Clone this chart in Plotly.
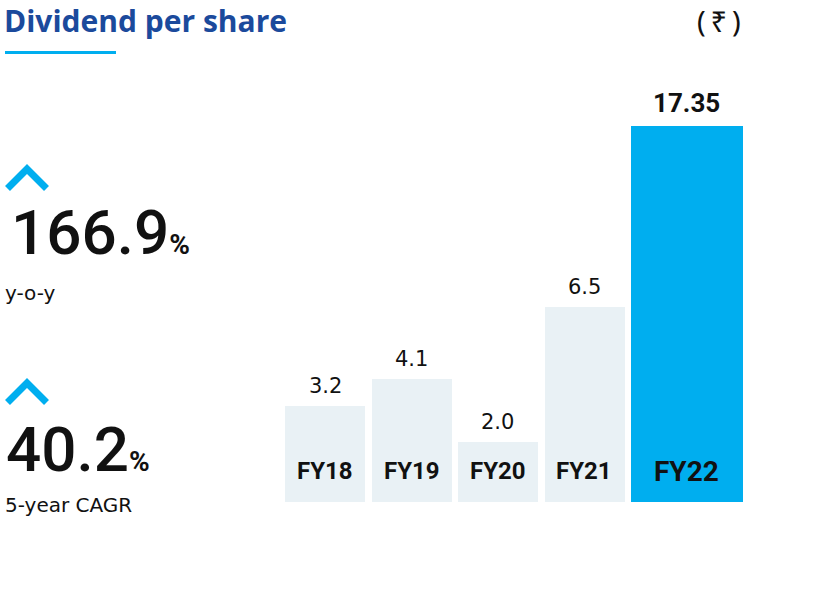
import plotly.graph_objects as go

# ---- data ----
categories = ["FY18", "FY19", "FY20", "FY21", "FY22"]
dividend = [3.2, 4.1, 2.0, 6.5, 17.35]
value_labels = ["3.2", "4.1", "2.0", "6.5", "17.35"]
yoy_growth = "166.9"
cagr_5yr = "40.2"

# the tallest bar is drawn on a broken (truncated) scale
AXIS_BREAK = 12.53
shown = [min(v, AXIS_BREAK) for v in dividend]

W, H = 819, 597
LIGHT = "#E9F1F5"
BLUE = "#00AEEF"
NAVY = "#1B4A9C"
FONT = "Roboto"
WIDE = "DejaVu Sans"

colors = [LIGHT] * 4 + [BLUE]
widths = [0.925] * 4 + [1.295]
offsets = [-0.4625] * 5

fig = go.Figure()
fig.add_trace(go.Bar(
    x=list(range(len(categories))), y=shown,
    width=widths, offset=offsets,
    marker=dict(color=colors, line=dict(width=0)),
    hoverinfo="skip",
))

def px(x):
    return x / W

def py(y):
    return 1 - y / H

annotations = []
for i, (c, lab, h) in enumerate(zip(categories, value_labels, shown)):
    last = i == len(categories) - 1
    cx = i - 0.4625 + widths[i] / 2
    if last:
        vfont = dict(family=FONT, size=26, color="#111111")
        vtext = f"<b>{lab}</b>"
    else:
        vfont = dict(family=WIDE, size=21, color="#111111")
        vtext = lab
    annotations.append(dict(
        x=cx, y=h, xref="x", yref="y", text=vtext,
        showarrow=False, yanchor="bottom", yshift=6, font=vfont,
    ))
    annotations.append(dict(
        x=cx, y=0, xref="x", yref="y", text=f"<b>{c}</b>",
        showarrow=False, yanchor="middle", yshift=31,
        font=dict(family=FONT, size=28 if last else 24, color="#111111"),
    ))

# left-side text
annotations += [
    dict(x=px(3), y=py(20), xref="paper", yref="paper", xanchor="left", yanchor="middle",
         text="<b>Dividend per share</b>", showarrow=False, borderpad=0,
         font=dict(family="Open Sans", size=30, color=NAVY)),
    dict(x=px(742), y=py(20), xref="paper", yref="paper", xanchor="right", yanchor="middle",
         text="(\u2009₹\u2009)", showarrow=False, borderpad=0,
         font=dict(family="Noto Sans", size=29, color="#111111")),
    dict(x=px(9), y=py(232), xref="paper", yref="paper", xanchor="left", yanchor="middle",
         text=f"{yoy_growth}<span style='font-size:28px'><b>%</b></span>", showarrow=False,
         font=dict(family=FONT, size=62, color="#111111", weight=500)),
    dict(x=px(3), y=py(293), xref="paper", yref="paper", xanchor="left", yanchor="middle",
         text="y-o-y", showarrow=False,
         font=dict(family=WIDE, size=20, color="#111111")),
    dict(x=px(4), y=py(449), xref="paper", yref="paper", xanchor="left", yanchor="middle",
         text=f"{cagr_5yr}<span style='font-size:28px'><b>%</b></span>", showarrow=False,
         font=dict(family=FONT, size=62, color="#111111", weight=500)),
    dict(x=px(3), y=py(505), xref="paper", yref="paper", xanchor="left", yanchor="middle",
         text="5-year CAGR", showarrow=False,
         font=dict(family=WIDE, size=20, color="#111111")),
]

shapes = [
    dict(type="rect", xref="paper", yref="paper", x0=px(5), x1=px(116), y0=py(54), y1=py(51),
         fillcolor=BLUE, line=dict(width=0)),
]
for top in (164, 378):
    shapes.append(dict(
        type="path", xref="paper", yref="paper",
        path=f"M {px(7.5)} {py(top+24.5)} L {px(27)} {py(top+5)} L {px(46.5)} {py(top+24.5)}",
        line=dict(color=BLUE, width=7), fillcolor="rgba(0,0,0,0)",
    ))

fig.update_layout(
    width=W, height=H,
    margin=dict(l=0, r=0, t=0, b=0),
    paper_bgcolor="white", plot_bgcolor="white",
    showlegend=False,
    bargap=0,
    xaxis=dict(range=[-0.5, 4.85], domain=[281.76 / W, 744.5 / W],
               showgrid=False, zeroline=False, showticklabels=False, showline=False, fixedrange=True),
    yaxis=dict(range=[0, 13], domain=[(H - 502) / H, (H - 112) / H],
               showgrid=False, zeroline=False, showticklabels=False, showline=False, fixedrange=True),
    annotations=annotations,
    shapes=shapes,
)

fig.write_html("out.html", config={"displayModeBar": False},
               post_script="document.body.style.margin='0';document.body.style.overflow='hidden';")
